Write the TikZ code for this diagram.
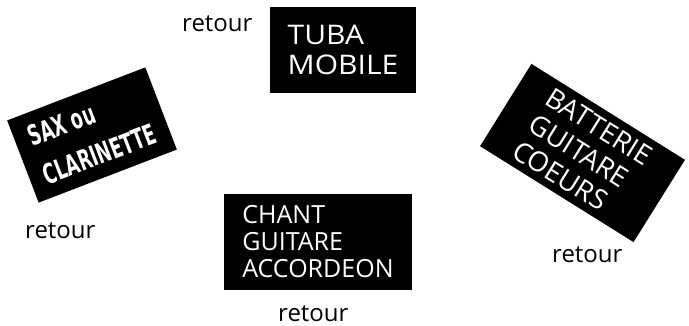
\documentclass[tikz,border=0pt]{standalone}
\usepackage{fontspec}
\usepackage{graphicx}
\setmainfont{Open Sans}
\newfontfamily\saxfont{DejaVu Sans}
\begin{document}
\begin{tikzpicture}[x=1pt,y=-1pt,
  plaque/.style={fill=black, text=white, inner sep=0pt, align=left},
  ret/.style={anchor=base west, inner sep=0pt, font=\fontsize{24}{28}\selectfont}]
\useasboundingbox (0,0) rectangle (689,326);
\node[plaque, minimum width=146pt, minimum height=86pt, font=\fontsize{30}{30}\selectfont] (tuba) at (343,50) {\scalebox{1}[0.9]{TUBA}\\\scalebox{1}[0.9]{MOBILE}};
\node[plaque, minimum width=188pt, minimum height=96pt, font=\fontsize{25}{27}\selectfont] (chant) at (318,242) {CHANT\\GUITARE\\ACCORDEON};
\node[plaque, rotate=21, minimum width=148pt, minimum height=88pt, font=\saxfont\bfseries\fontsize{28}{41}\selectfont] (sax) at (92,135) {\scalebox{0.62}[1]{SAX ou}\\\scalebox{0.62}[1]{CLARINETTE}};
\node[plaque, rotate=-32, minimum width=181pt, minimum height=97pt, font=\fontsize{27.5}{31}\selectfont] (batt) at (582.5,153) {BATTERIE\\GUITARE\\COEURS};
\node[ret] (r1) at (182,32) {retour};
\node[ret] (r2) at (25,239) {retour};
\node[ret] (r3) at (552,262) {retour};
\node[ret] (r4) at (278,321) {retour};
\end{tikzpicture}
\end{document}
